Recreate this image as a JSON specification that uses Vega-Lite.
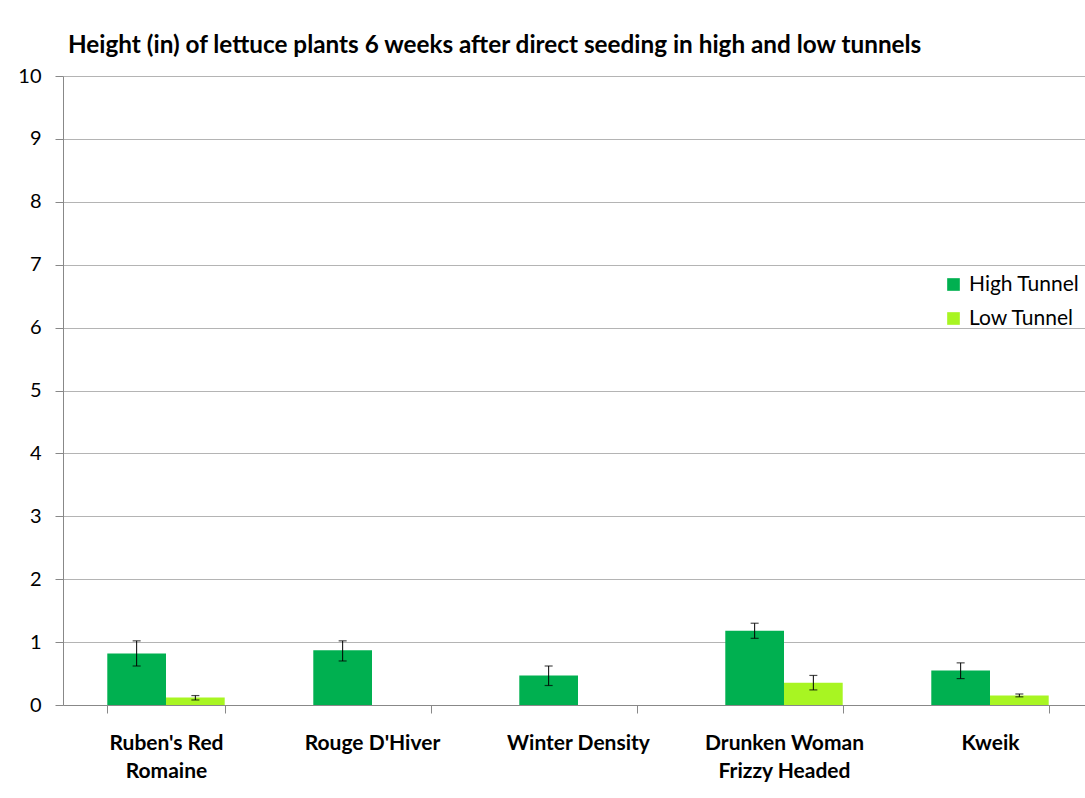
{
  "$schema": "https://vega.github.io/schema/vega-lite/v6.json",
  "width": 1030,
  "height": 629,
  "autosize": {"type": "none"},
  "padding": {"left": 63, "top": 76, "right": 0, "bottom": 93},
  "background": "white",
  "config": {
    "view": {"stroke": null},
    "font": "Lato"
  },
  "title": {
    "text": "Height (in) of lettuce plants 6 weeks after direct seeding in high and low tunnels",
    "anchor": "start",
    "frame": "group",
    "offset": 23,
    "dx": 5,
    "dy": 34,
    "baseline": "alphabetic",
    "font": "Lato",
    "fontSize": 24.3,
    "fontWeight": "bold",
    "color": "#000000"
  },
  "data": {
    "values": [
      {"variety": "Ruben's Red Romaine", "tunnel": "High Tunnel", "height": 0.82, "lo": 0.62, "hi": 1.02},
      {"variety": "Ruben's Red Romaine", "tunnel": "Low Tunnel", "height": 0.12, "lo": 0.08, "hi": 0.15},
      {"variety": "Rouge D'Hiver", "tunnel": "High Tunnel", "height": 0.87, "lo": 0.70, "hi": 1.02},
      {"variety": "Winter Density", "tunnel": "High Tunnel", "height": 0.47, "lo": 0.31, "hi": 0.62},
      {"variety": "Drunken Woman Frizzy Headed", "tunnel": "High Tunnel", "height": 1.18, "lo": 1.06, "hi": 1.30},
      {"variety": "Drunken Woman Frizzy Headed", "tunnel": "Low Tunnel", "height": 0.355, "lo": 0.24, "hi": 0.47},
      {"variety": "Kweik", "tunnel": "High Tunnel", "height": 0.55, "lo": 0.42, "hi": 0.67},
      {"variety": "Kweik", "tunnel": "Low Tunnel", "height": 0.15, "lo": 0.13, "hi": 0.175}
    ]
  },
  "encoding": {
    "x": {
      "field": "variety",
      "type": "nominal",
      "sort": ["Ruben's Red Romaine", "Rouge D'Hiver", "Winter Density", "Drunken Woman Frizzy Headed", "Kweik"],
      "scale": {"paddingInner": 0.43, "paddingOuter": 0.215},
      "axis": {
        "title": null,
        "labelAngle": 0,
        "labelExpr": "datum.value == \"Ruben's Red Romaine\" ? [\"Ruben's Red\", \"Romaine\"] : datum.value == 'Drunken Woman Frizzy Headed' ? ['Drunken Woman', 'Frizzy Headed'] : datum.value",
        "labelFont": "Lato",
        "labelFontSize": 21,
        "labelFontWeight": "bold",
        "labelColor": "#000000",
        "labelLineHeight": 28,
        "labelPadding": 19,
        "labelBaseline": "top",
        "tickBand": "extent",
        "tickSize": 8,
        "tickColor": "#888888",
        "domainColor": "#888888",
        "grid": false
      }
    },
    "xOffset": {
      "field": "tunnel",
      "type": "nominal",
      "scale": {"domain": ["High Tunnel", "Low Tunnel"], "paddingInner": 0, "paddingOuter": 0}
    }
  },
  "layer": [
    {
      "mark": {"type": "bar"},
      "encoding": {
        "y": {
          "field": "height",
          "type": "quantitative",
          "scale": {"domain": [0, 10], "nice": false},
          "axis": {
            "title": null,
            "values": [0, 1, 2, 3, 4, 5, 6, 7, 8, 9, 10],
            "format": "d",
            "labelFont": "Lato",
            "labelFontSize": 20,
            "labelColor": "#000000",
            "labelPadding": 14,
            "tickSize": 8,
            "tickColor": "#888888",
            "domainColor": "#888888",
            "gridColor": "#B4B4B4",
            "gridWidth": 1
          }
        },
        "color": {
          "field": "tunnel",
          "type": "nominal",
          "scale": {"domain": ["High Tunnel", "Low Tunnel"], "range": ["#00B050", "#A8F522"]},
          "legend": {
            "title": null,
            "orient": "none",
            "legendX": 880,
            "legendY": 198,
            "symbolType": "square",
            "symbolSize": 160,
            "symbolStrokeWidth": 0,
            "labelFont": "Lato",
            "labelFontSize": 21,
            "labelColor": "#000000",
            "rowPadding": 12,
            "labelOffset": 5
          }
        }
      }
    },
    {
      "mark": {"type": "rule", "color": "#000000", "strokeWidth": 1},
      "encoding": {
        "y": {"field": "lo", "type": "quantitative"},
        "y2": {"field": "hi"}
      }
    },
    {
      "mark": {"type": "tick", "color": "#000000", "thickness": 1.2, "size": 8},
      "encoding": {"y": {"field": "lo", "type": "quantitative"}}
    },
    {
      "mark": {"type": "tick", "color": "#000000", "thickness": 1.2, "size": 8},
      "encoding": {"y": {"field": "hi", "type": "quantitative"}}
    }
  ]
}
